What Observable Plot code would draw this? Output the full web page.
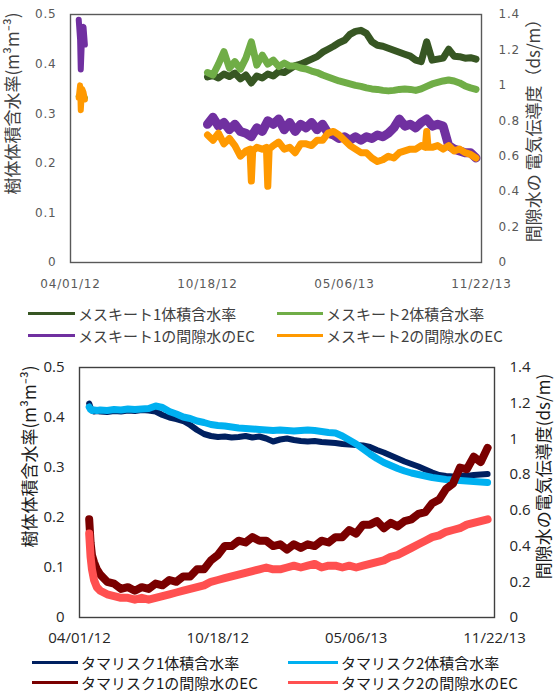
<!DOCTYPE html>
<html><head><meta charset="utf-8">
<script src="https://cdn.jsdelivr.net/npm/d3@7"></script>
<script src="https://cdn.jsdelivr.net/npm/@observablehq/plot@0.6"></script>
<style>
html,body{margin:0;padding:0;background:#fff;}
#root{position:relative;width:554px;height:700px;overflow:hidden;background:#fff;}
.panel{position:absolute;left:0;}
.leg{position:absolute;display:flex;align-items:center;height:22px;font-family:'Noto Sans CJK JP',sans-serif;white-space:nowrap;}
.sw{display:inline-block;height:3px;margin-right:3px;}
.top [aria-label="x-axis tick label"] text,.top [aria-label="y-axis tick label"] text{letter-spacing:0.8px;}
</style></head><body><div id="root"></div>
<script>
// ---------- shared axis data ----------
const xDomainStr = ["2012-04-01", "2013-11-22"];
const xTickStr = ["2012-04-01", "2012-10-18", "2013-05-06", "2013-11-22"];
const xTickLabels = ["04/01/12", "10/18/12", "05/06/13", "11/22/13"];
const leftTicks = [0, 0.1, 0.2, 0.3, 0.4, 0.5];
const rightTicks = [0, 0.2, 0.4, 0.6, 0.8, 1, 1.2, 1.4];

// ---------- top panel (メスキート) ----------
const topEarlyDates = ["2012-04-13", "2012-04-15", "2012-04-16", "2012-04-18", "2012-04-20", "2012-04-22"];
const mesq2WcEarly = [0.335, 0.333, 0.331, 0.334, 0.336, 0.332];
const mesq1EcEarly = [1.37, 1.26, 1.09, 1.29, 1.33, 1.23];
const mesq2EcEarly = [0.93, 1.00, 0.86, 0.98, 0.96, 0.92];

const topDates = ["2012-10-18","2012-10-26","2012-11-03","2012-11-11","2012-11-19","2012-11-27","2012-12-05","2012-12-13","2012-12-21","2012-12-29",
"2013-01-06","2013-01-14","2013-01-22","2013-01-30","2013-02-07","2013-02-15","2013-02-23","2013-03-03","2013-03-11","2013-03-19",
"2013-03-27","2013-04-04","2013-04-12","2013-04-20","2013-04-28","2013-05-06","2013-05-14","2013-05-22","2013-05-30","2013-06-07",
"2013-06-15","2013-06-23","2013-07-01","2013-07-09","2013-07-17","2013-07-25","2013-08-02","2013-08-10","2013-08-18","2013-08-26",
"2013-09-03","2013-09-11","2013-09-19","2013-09-27","2013-10-05","2013-10-13","2013-10-21","2013-10-29","2013-11-06","2013-11-14"];
const mesq1Wc = [0.374,0.377,0.372,0.380,0.375,0.382,0.370,0.378,0.362,0.376,0.372,0.380,0.376,0.385,0.383,0.390,0.397,0.400,0.405,0.410,
0.415,0.424,0.430,0.436,0.443,0.448,0.460,0.466,0.468,0.462,0.445,0.438,0.436,0.432,0.428,0.424,0.420,0.416,0.408,0.405,
0.445,0.408,0.410,0.412,0.430,0.416,0.415,0.412,0.413,0.410];
const mesq2Wc = [0.383,0.378,0.400,0.425,0.392,0.405,0.390,0.412,0.445,0.398,0.418,0.400,0.408,0.395,0.402,0.396,0.396,0.392,0.390,0.386,
0.383,0.378,0.374,0.370,0.366,0.363,0.360,0.357,0.355,0.352,0.350,0.349,0.347,0.346,0.347,0.349,0.350,0.349,0.347,0.350,
0.355,0.360,0.363,0.366,0.368,0.366,0.362,0.356,0.352,0.349];
const mesq1Ec = [0.78,0.82,0.77,0.79,0.75,0.78,0.74,0.73,0.71,0.76,0.74,0.80,0.78,0.81,0.75,0.79,0.74,0.78,0.76,0.79,
0.75,0.78,0.73,0.72,0.70,0.71,0.69,0.71,0.69,0.71,0.70,0.72,0.71,0.73,0.76,0.81,0.77,0.78,0.76,0.79,
0.81,0.77,0.78,0.77,0.66,0.64,0.63,0.62,0.62,0.59];
const mesq2EcDates = ["2012-10-18","2012-10-26","2012-11-03","2012-11-11","2012-11-19","2012-11-27","2012-12-05","2012-12-13","2012-12-19","2012-12-21","2012-12-23","2012-12-29",
"2013-01-06","2013-01-12","2013-01-14","2013-01-16","2013-01-22","2013-01-30","2013-02-07","2013-02-15","2013-02-23","2013-03-03","2013-03-11","2013-03-19",
"2013-03-27","2013-04-04","2013-04-12","2013-04-20","2013-04-28","2013-05-06","2013-05-14","2013-05-22","2013-05-30","2013-06-07",
"2013-06-15","2013-06-23","2013-07-01","2013-07-09","2013-07-17","2013-07-25","2013-08-02","2013-08-10","2013-08-18","2013-08-26",
"2013-09-01","2013-09-03","2013-09-05","2013-09-11","2013-09-19","2013-09-27","2013-10-05","2013-10-13","2013-10-21","2013-10-29","2013-11-06","2013-11-14"];
const mesq2Ec = [0.72,0.69,0.73,0.67,0.70,0.66,0.60,0.63,0.64,0.46,0.63,0.65,
0.64,0.65,0.43,0.64,0.66,0.68,0.64,0.65,0.62,0.67,0.67,0.66,
0.69,0.69,0.73,0.74,0.72,0.69,0.66,0.64,0.62,0.62,0.59,0.57,0.58,0.60,0.59,0.62,0.63,0.64,0.64,0.66,
0.65,0.74,0.65,0.65,0.66,0.64,0.66,0.63,0.64,0.62,0.61,0.59];
const topLegend = ["メスキート1体積含水率", "メスキート2体積含水率", "メスキート1の間隙水のEC", "メスキート2の間隙水のEC"];
const topColors = ["#375623", "#70AD47", "#7030A0", "#FF9900"];

// ---------- bottom panel (タマリスク) ----------
const botDates = ["2012-04-15","2012-04-17","2012-04-19","2012-04-22","2012-04-26","2012-05-01","2012-05-11","2012-05-21","2012-05-31",
"2012-06-10","2012-06-20","2012-06-30","2012-07-10","2012-07-20","2012-07-30","2012-08-09","2012-08-19","2012-08-29",
"2012-09-08","2012-09-18","2012-09-28","2012-10-08","2012-10-18","2012-10-28","2012-11-07","2012-11-17","2012-11-27",
"2012-12-07","2012-12-17","2012-12-27","2013-01-06","2013-01-16","2013-01-26","2013-02-05","2013-02-15","2013-02-25",
"2013-03-07","2013-03-17","2013-03-27","2013-04-06","2013-04-16","2013-04-26","2013-05-06","2013-05-16","2013-05-26",
"2013-06-05","2013-06-15","2013-06-25","2013-07-05","2013-07-15","2013-07-25","2013-08-04","2013-08-14","2013-08-24",
"2013-09-03","2013-09-13","2013-09-23","2013-10-03","2013-10-13","2013-10-23","2013-11-02","2013-11-12"];
const tam1Wc = [0.428,0.420,0.414,0.412,0.413,0.412,0.411,0.413,0.412,0.414,0.413,0.415,0.414,0.412,0.405,0.400,0.397,0.393,
0.385,0.375,0.367,0.363,0.361,0.362,0.360,0.361,0.363,0.360,0.362,0.358,0.352,0.356,0.358,0.355,0.353,0.352,
0.353,0.351,0.350,0.349,0.347,0.346,0.345,0.344,0.341,0.335,0.330,0.324,0.318,0.312,0.307,0.302,0.296,0.290,
0.285,0.283,0.282,0.284,0.283,0.285,0.286,0.287];
const tam2Wc = [0.421,0.416,0.414,0.415,0.414,0.415,0.414,0.416,0.415,0.417,0.416,0.417,0.418,0.423,0.420,0.412,0.407,0.401,
0.398,0.393,0.390,0.386,0.384,0.383,0.381,0.379,0.378,0.377,0.376,0.375,0.374,0.375,0.374,0.373,0.374,0.375,
0.374,0.372,0.370,0.369,0.363,0.355,0.347,0.337,0.327,0.318,0.310,0.304,0.298,0.293,0.289,0.286,0.283,0.280,
0.278,0.276,0.275,0.274,0.273,0.272,0.271,0.270];
const tam1Ec = [0.55,0.42,0.35,0.31,0.27,0.24,0.20,0.19,0.16,0.17,0.15,0.17,0.16,0.19,0.18,0.21,0.20,0.23,
0.23,0.27,0.27,0.32,0.35,0.40,0.40,0.43,0.42,0.45,0.43,0.43,0.40,0.41,0.38,0.41,0.39,0.41,
0.40,0.43,0.42,0.45,0.45,0.49,0.47,0.52,0.52,0.54,0.50,0.53,0.51,0.54,0.55,0.58,0.59,0.64,
0.66,0.72,0.75,0.84,0.83,0.90,0.87,0.95];
const tam2Ec = [0.47,0.34,0.27,0.21,0.17,0.15,0.13,0.12,0.11,0.11,0.10,0.11,0.10,0.11,0.12,0.13,0.14,0.15,
0.16,0.17,0.18,0.20,0.21,0.22,0.23,0.24,0.25,0.26,0.27,0.28,0.27,0.27,0.28,0.29,0.28,0.29,
0.30,0.28,0.29,0.29,0.28,0.29,0.28,0.29,0.30,0.31,0.32,0.34,0.35,0.37,0.39,0.41,0.43,0.45,
0.46,0.48,0.49,0.50,0.52,0.53,0.54,0.55];
const botLegend = ["タマリスク1体積含水率", "タマリスク2体積含水率", "タマリスク1の間隙水のEC", "タマリスク2の間隙水のEC"];
const botColors = ["#002060", "#00B0F0", "#7A0000", "#FF5050"];

// ---------- helpers ----------
const parse = d3.utcParse("%Y-%m-%d");
const xDomain = xDomainStr.map(parse);
const xTicks = xTickStr.map(parse);
const K = 0.5 / 1.4; // right axis (0–1.4) onto left axis (0–0.5)
const rows = (dates, vals) => dates.map((d, i) => ({date: parse(d), v: vals[i]}));
const fmtX = d => xTickLabels[xTicks.findIndex(t => +t === +d)];
const root = document.getElementById("root");

function panel(o) {
  const p = Plot.plot({
    width: 554, height: 300,
    marginTop: o.mt, marginBottom: o.mb, marginLeft: o.ml, marginRight: o.mr,
    x: {type: "utc", domain: xDomain},
    y: {domain: [0, 0.5]},
    style: {fontFamily: o.tickFont, fontSize: o.tickSize + "px", color: o.tickColor, background: "white", overflow: "visible"},
    marks: [
      ...o.lines,
      Plot.frame({stroke: o.frameColor, strokeWidth: 1.4}),
      Plot.axisX({ticks: xTicks, tickFormat: fmtX, tickSize: 0, tickPadding: o.xpad, label: null}),
      Plot.axisY({anchor: "left", ticks: leftTicks, tickFormat: d => String(+d.toFixed(1)), tickSize: 0, tickPadding: o.lpad, label: null}),
      Plot.axisY({anchor: "right", ticks: rightTicks.map(v => v * K), tickFormat: d => String(+(d / K).toFixed(1)), tickSize: 0, tickPadding: o.rpad, label: null}),
      Plot.text([o.leftTitle], {text: d => d, frameAnchor: "left", textAnchor: "middle", lineAnchor: "middle", dx: o.ltx, dy: o.lty, rotate: -90, fontSize: o.titleSize, fill: o.titleColor, fontFamily: "Noto Sans CJK JP"}),
      Plot.text([o.rightTitle], {text: d => d, frameAnchor: "right", textAnchor: "middle", lineAnchor: "middle", dx: o.rtx, dy: o.rty, rotate: -90, fontSize: o.titleSize, fill: o.titleColor, fontFamily: "Noto Sans CJK JP"})
    ]
  });
  p.classList.add("panel", o.cls);
  p.style.top = o.top + "px";
  root.appendChild(p);
}

function legend(labels, colors, cols, swW, rowsY, color, size) {
  labels.forEach((lab, i) => {
    const div = document.createElement("div");
    div.className = "leg";
    div.style.left = cols[i % 2] + "px";
    div.style.top = (rowsY[Math.floor(i / 2)] - 11) + "px";
    div.style.color = color;
    div.style.fontSize = size + "px";
    const sw = document.createElement("span");
    sw.className = "sw";
    sw.style.width = swW[i % 2] + "px";
    sw.style.background = colors[i];
    div.appendChild(sw);
    div.appendChild(document.createTextNode(lab));
    root.appendChild(div);
  });
}

// top panel
panel({
  cls: "top", top: 0, mt: 14, mb: 38, ml: 70, mr: 73,
  tickFont: "DejaVu Sans", tickSize: 12, tickColor: "#595959", frameColor: "#595959",
  xpad: 17, lpad: 14, rpad: 17,
  leftTitle: "樹体体積含水率(m³m⁻³)", rightTitle: "間隙水の 電気伝導度（ds/m）",
  titleSize: 17, titleColor: "#404040", ltx: -57, lty: -35, rtx: 53, rty: -12,
  lines: [
    Plot.line(rows(topDates, mesq1Wc), {x: "date", y: "v", stroke: topColors[0], strokeWidth: 7}),
    Plot.line(rows(topDates, mesq2Wc), {x: "date", y: "v", stroke: topColors[1], strokeWidth: 7}),
    Plot.line(rows(topEarlyDates, mesq2WcEarly), {x: "date", y: "v", stroke: topColors[1], strokeWidth: 6}),
    Plot.line(rows(topDates, mesq1Ec), {x: "date", y: d => d.v * K, stroke: topColors[2], strokeWidth: 9}),
    Plot.line(rows(topEarlyDates, mesq1EcEarly), {x: "date", y: d => d.v * K, stroke: topColors[2], strokeWidth: 6}),
    Plot.line(rows(mesq2EcDates, mesq2Ec), {x: "date", y: d => d.v * K, stroke: topColors[3], strokeWidth: 7}),
    Plot.line(rows(topEarlyDates, mesq2EcEarly), {x: "date", y: d => d.v * K, stroke: topColors[3], strokeWidth: 6})
  ]
});
legend(topLegend, topColors, [28, 277], [47, 46], [313, 335], "#404040", 15);

// bottom panel
panel({
  cls: "bot", top: 350, mt: 17, mb: 33, ml: 79, mr: 60,
  tickFont: "Open Sans", tickSize: 15, tickColor: "#262626", frameColor: "#404040",
  xpad: 15, lpad: 15, rpad: 15,
  leftTitle: "樹体体積含水率(m³m⁻³)", rightTitle: "間隙水の電気伝導度(ds/m)",
  titleSize: 17, titleColor: "#1a1a1a", ltx: -49, lty: -36, rtx: 50, rty: -16,
  lines: [
    Plot.line(rows(botDates, tam1Wc), {x: "date", y: "v", stroke: botColors[0], strokeWidth: 6}),
    Plot.line(rows(botDates, tam2Wc), {x: "date", y: "v", stroke: botColors[1], strokeWidth: 7}),
    Plot.line(rows(botDates, tam1Ec), {x: "date", y: d => d.v * K, stroke: botColors[2], strokeWidth: 8}),
    Plot.line(rows(botDates, tam2Ec), {x: "date", y: d => d.v * K, stroke: botColors[3], strokeWidth: 8})
  ]
});
legend(botLegend, botColors, [32, 288], [46, 50], [662, 682], "#1a1a1a", 15);
</script></body></html>
